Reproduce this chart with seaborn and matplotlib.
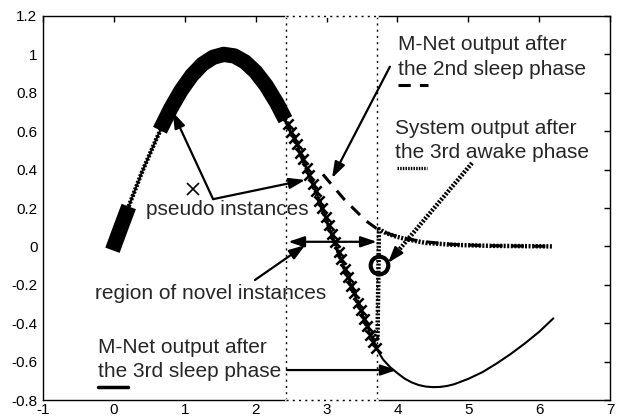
import matplotlib
matplotlib.use("Agg")
import matplotlib.pyplot as plt
import seaborn as sns

# M-Net output after the 3rd sleep phase (solid)
sleep3_x = [0.0, 0.2, 0.4, 0.6, 0.8, 1.0, 1.2, 1.4, 1.6, 1.8, 2.0, 2.2, 2.4, 2.6, 2.8,
            3.0, 3.2, 3.4, 3.6, 3.7, 3.8, 3.9, 4.0, 4.1, 4.2, 4.3, 4.4, 4.5, 4.6, 4.7,
            4.8, 5.0, 5.2, 5.4, 5.6, 5.8, 6.0, 6.2]
sleep3_y = [0.0, 0.2, 0.39, 0.56, 0.72, 0.84, 0.93, 0.985, 1.0, 0.97, 0.91, 0.81, 0.675,
            0.515, 0.335, 0.14, -0.06, -0.255, -0.44, -0.53, -0.59, -0.63, -0.66, -0.688,
            -0.708, -0.722, -0.73, -0.733, -0.732, -0.727, -0.718, -0.69, -0.655, -0.61,
            -0.56, -0.505, -0.445, -0.375]

# System output after the 3rd awake phase (hatched)
awake3_x = [0.0, 0.2, 0.4, 0.6, 0.8, 1.0, 1.2, 1.4, 1.6, 1.8, 2.0, 2.2, 2.4, 2.6, 2.8,
            3.0, 3.2, 3.4, 3.6, 3.72, 3.74, 3.82, 3.95, 4.1, 4.4, 4.8, 5.3, 6.2]
awake3_y = [0.0, 0.2, 0.39, 0.56, 0.72, 0.84, 0.93, 0.985, 1.0, 0.97, 0.91, 0.81, 0.675,
            0.515, 0.335, 0.14, -0.06, -0.255, -0.44, -0.48, 0.09, 0.073, 0.055, 0.04,
            0.018, 0.008, 0.003, 0.0]

# M-Net output after the 2nd sleep phase (dashed)
sleep2_x = [2.95, 3.1, 3.25, 3.4, 3.55, 3.7, 3.85, 4.0, 4.3, 4.7, 5.2, 6.2]
sleep2_y = [0.375, 0.31, 0.245, 0.19, 0.135, 0.095, 0.07, 0.05, 0.028, 0.012, 0.004, 0.0]

# densely packed pseudo instances
pseudo_x = [0.65, 0.8, 0.95, 1.1, 1.25, 1.4, 1.55, 1.7, 1.85, 2.0, 2.15, 2.3, 2.42]
pseudo_y = [0.605, 0.717, 0.813, 0.891, 0.949, 0.985, 1.0, 0.992, 0.961, 0.909, 0.837,
            0.746, 0.66]
pseudo0_x = [-0.02, 0.1, 0.21]
pseudo0_y = [-0.02, 0.1, 0.208]

# training instances inside the novel region
novel_x = [2.45, 2.50, 2.54, 2.58, 2.63, 2.67, 2.72, 2.76, 2.81, 2.85, 2.90, 2.94, 2.99,
           3.03, 3.08, 3.12, 3.17, 3.21, 3.26, 3.30, 3.35, 3.39, 3.44, 3.48, 3.53, 3.57,
           3.62, 3.66, 3.70]
novel_y = [0.638, 0.598, 0.566, 0.532, 0.489, 0.454, 0.409, 0.372, 0.325, 0.287, 0.239,
           0.200, 0.151, 0.111, 0.062, 0.022, -0.028, -0.068, -0.117, -0.158, -0.206,
           -0.245, -0.293, -0.331, -0.378, -0.415, -0.461, -0.496, -0.530]

region_lo, region_hi = 2.43, 3.71
query_x, query_y = 3.74, -0.097

x_ticks = [-1, 0, 1, 2, 3, 4, 5, 6, 7]
y_ticks = [-0.8, -0.6, -0.4, -0.2, 0, 0.2, 0.4, 0.6, 0.8, 1, 1.2]
y_labels = ["-0.8", "-0.6", "-0.4", "-0.2", "0", "0.2", "0.4", "0.6", "0.8", "1", "1.2"]

sns.set_style("white")
plt.rcParams["font.family"] = ["Liberation Sans", "DejaVu Sans"]

fig = plt.figure(figsize=(6.2, 4.19), dpi=100)
ax = fig.add_axes([43 / 620, 19 / 419, 567 / 620, 384 / 419])

HATCH = (0, (0.45, 0.35))

sns.lineplot(x=sleep2_x, y=sleep2_y, estimator=None, sort=False, ax=ax, color="k",
             lw=2.2, linestyle=(0, (4, 3)))
sns.lineplot(x=awake3_x, y=awake3_y, estimator=None, sort=False, ax=ax, color="k",
             lw=3.2, linestyle=HATCH)
sns.lineplot(x=sleep3_x, y=sleep3_y, estimator=None, sort=False, ax=ax, color="k", lw=1.5)
sns.lineplot(x=pseudo_x, y=pseudo_y, estimator=None, sort=False, ax=ax, color="k",
             lw=11, solid_capstyle="butt")
sns.lineplot(x=pseudo0_x, y=pseudo0_y, estimator=None, sort=False, ax=ax, color="k",
             lw=11, solid_capstyle="butt")
sns.scatterplot(x=novel_x, y=novel_y, ax=ax, marker="x", s=55, color="k",
                linewidth=1.8, zorder=4)
ax.plot([query_x], [query_y], marker="o", ms=12.7, mew=3, mfc="none", mec="k",
        zorder=5)

# dotted box around the region of novel instances, breaking the frame
for yy in (1.2, -0.8):
    ax.plot([region_lo, region_hi], [yy, yy], color="white", lw=2, clip_on=False,
            zorder=3)
    ax.plot([region_lo, region_hi], [yy, yy], color="k", lw=1, ls=(0, (1.5, 3)),
            clip_on=False, zorder=3.1)
for xx in (region_lo, region_hi):
    ax.plot([xx, xx], [-0.8, 1.2], color="k", lw=1, ls=(0, (1.5, 3)), zorder=1)

arrow = dict(arrowstyle="-|>,head_length=0.8,head_width=0.27", lw=1.6, color="k",
             shrinkA=0, shrinkB=0, mutation_scale=12)
darrow = dict(arrowstyle="<|-|>,head_length=0.8,head_width=0.27", lw=1.6, color="k",
              shrinkA=0, shrinkB=0, mutation_scale=12)

ax.annotate("", xy=(3.078, 0.356), xytext=(3.895, 0.936), arrowprops=arrow)
ax.annotate("", xy=(0.83, 0.70), xytext=(1.40, 0.246), arrowprops=arrow)
ax.annotate("", xy=(2.70, 0.346), xytext=(1.40, 0.246), arrowprops=arrow)
ax.annotate("", xy=(region_lo + 0.03, 0.024), xytext=(region_hi, 0.024), arrowprops=darrow)
ax.annotate("", xy=(2.70, 0.007), xytext=(1.99, -0.175), arrowprops=arrow)
ax.annotate("", xy=(3.99, -0.644), xytext=(2.44, -0.644), arrowprops=arrow)

# hatched pointer to the queried point
sx, sy, tx, ty = 5.053, 0.434, 3.868, -0.086
fx, fy = tx + (sx - tx) * 0.12, ty + (sy - ty) * 0.12
ax.plot([sx, fx], [sy, fy], color="k", lw=3.2, ls=HATCH, zorder=4)
ax.annotate("", xy=(tx, ty), xytext=(fx, fy), arrowprops=arrow, zorder=4)

fs = 15
ax.text(4.009, 1.023, "M-Net output after", fontsize=fs, va="baseline")
ax.text(4.009, 0.893, "the 2nd sleep phase", fontsize=fs, va="baseline")
ax.plot([4.01, 4.43], [0.84, 0.84], color="k", lw=2.2, ls=(0, (4, 3)))

ax.text(3.967, 0.585, "System output after", fontsize=fs, va="baseline")
ax.text(3.967, 0.46, "the 3rd awake phase", fontsize=fs, va="baseline")
ax.plot([3.995, 4.418], [0.408, 0.408], color="k", lw=2.4, ls=HATCH)

ax.text(-0.224, -0.553, "M-Net output after", fontsize=fs, va="baseline")
ax.text(-0.224, -0.679, "the 3rd sleep phase", fontsize=fs, va="baseline")
ax.plot([-0.224, 0.2], [-0.732, -0.732], color="k", lw=2.5)

ax.text(0.453, 0.163, "pseudo instances", fontsize=fs, va="baseline")
ax.plot([1.116], [0.30], marker="x", ms=8, mew=1.2, color="k")

ax.text(-0.266, -0.274, "region of novel instances", fontsize=fs, va="baseline")

ax.set_xlim(-1, 7)
ax.set_ylim(-0.8, 1.2)
ax.set_xticks(x_ticks)
ax.set_xticklabels([str(t) for t in x_ticks])
ax.set_yticks(y_ticks)
ax.set_yticklabels(y_labels)
ax.set_xlabel("")
ax.set_ylabel("")
ax.tick_params(direction="in", length=4.5, width=1, top=True, right=True,
               labelsize=11, colors="k")
ax.tick_params(axis="x", pad=2)
ax.tick_params(axis="y", pad=4)
for sp in ax.spines.values():
    sp.set_visible(True)
    sp.set_color("k")
    sp.set_linewidth(1)
ax.set_facecolor("white")

fig.savefig("out.png", dpi=100)
